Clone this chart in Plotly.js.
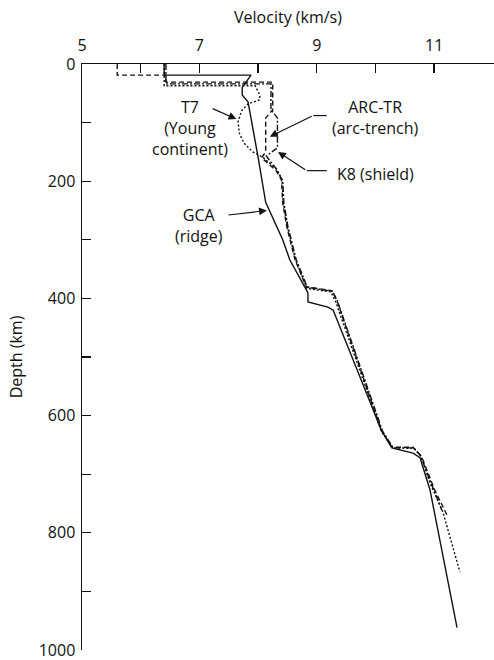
<!DOCTYPE html>
<html>
<head>
<meta charset="utf-8">
<script src="https://cdn.plot.ly/plotly-3.0.1.min.js"></script>
<style>html,body{margin:0;padding:0;background:#fff;}#chart{width:494px;height:660px;}</style>
</head>
<body>
<div id="chart"></div>
<script>
// Velocity (km/s) vs depth (km) for four upper-mantle models
const gcaV = [6.4, 6.4, 7.88, 7.73, 7.73, 7.83, 8.0, 8.13, 8.42, 8.54, 8.82, 8.85, 8.85, 9.19, 9.28, 10.1, 10.28, 10.64, 10.76, 10.93, 11.39];
const gcaD = [0, 19, 19, 40, 53, 65, 159, 236, 300, 334, 385, 391, 406, 415, 420, 625, 655, 664, 672, 727, 962];

const t7V = [6.4, 6.4, 7.95, 8.03, 8.03, 7.83, 7.72, 7.66, 7.68, 7.76, 7.91, 8.08, 8.32, 8.41, 8.43, 8.5, 8.64, 8.83, 9.24, 9.32, 10.1, 10.3, 10.66, 10.78, 10.93, 11.15, 11.44];
const t7D = [0, 37, 37, 53, 61, 68, 80, 98, 118, 135, 150, 159, 180, 198, 237, 278, 334, 383, 389, 405, 627, 655, 656, 670, 715, 765, 867];

const arcV = [5.6, 5.6, 6.43, 6.43, 8.25, 8.25, 8.13, 8.13, 8.06, 8.3, 8.4, 8.42, 8.49, 8.63, 8.82, 9.26, 9.34, 10.1, 10.28, 10.64, 10.76, 10.81, 11.01, 11.22];
const arcD = [0, 19, 19, 31, 31, 78, 92, 150, 160, 181, 198, 237, 278, 334, 380, 387, 403, 625, 654, 654, 667, 676, 727, 770];

const k8V = [6.43, 6.43, 8.22, 8.22, 8.33, 8.33, 8.14, 8.32, 8.42, 8.44, 8.51, 8.65, 8.84, 9.27, 9.35, 10.12, 10.3, 10.65, 10.77, 10.88, 11.13];
const k8D = [0, 34, 34, 78, 92, 143, 157, 180, 200, 237, 278, 334, 381, 388, 404, 626, 655, 655, 668, 698, 761];

const xTickVals = [5, 6, 7, 8, 9, 10, 11];
const xTickText = ['5', '', '7', '', '9', '', '11'];
const yTickVals = [0, 100, 200, 300, 400, 500, 600, 700, 800, 900, 1000];
const yTickText = ['0', '', '200', '', '400', '', '600', '', '800', '', '1000'];

const FONT = 'Open Sans, Noto Sans, sans-serif';
function tr(v, d, dash, name) {
  return {x: v, y: d, type: 'scatter', mode: 'lines', name: name,
    line: {color: '#111', width: 1.4, dash: dash}, hoverinfo: 'skip'};
}
const data = [
  tr(gcaV, gcaD, 'solid', 'GCA'),
  tr(t7V, t7D, '2px,2px', 'T7'),
  tr(arcV, arcD, '5px,3px', 'ARC-TR'),
  tr(k8V, k8D, '6px,2px,2px,2px', 'K8')
];

const txt = {family: FONT, size: 16, color: '#111'};
const arr = {showarrow: true, arrowhead: 2, arrowsize: 1.3, arrowwidth: 1.2, arrowcolor: '#111', text: '', xref: 'x', yref: 'y', axref: 'x', ayref: 'y'};
const annotations = [
  {x: 6.84, y: 110, xref: 'x', yref: 'y', text: 'T7<br>(Young<br>continent)', showarrow: false, font: txt, align: 'center'},
  Object.assign({x: 7.63, y: 94, ax: 7.2, ay: 75}, arr),
  {x: 9.99, y: 92, xref: 'x', yref: 'y', text: 'ARC-TR<br>(arc-trench)', showarrow: false, font: txt, align: 'center'},
  Object.assign({x: 8.2, y: 124, ax: 8.94, ay: 88}, arr),
  {x: 10.0, y: 187, xref: 'x', yref: 'y', text: 'K8 (shield)', showarrow: false, font: txt, align: 'center'},
  Object.assign({x: 8.34, y: 150, ax: 8.83, ay: 182}, arr),
  {x: 7.0, y: 276, xref: 'x', yref: 'y', text: 'GCA<br>(ridge)', showarrow: false, font: txt, align: 'center'},
  Object.assign({x: 8.15, y: 250, ax: 7.47, ay: 258}, arr)
];
const shapes = [
  {type: 'line', xref: 'x', yref: 'y', x0: 8.94, y0: 88, x1: 9.17, y1: 88, line: {color: '#111', width: 1.2}},
  {type: 'line', xref: 'x', yref: 'y', x0: 8.83, y0: 182, x1: 9.17, y1: 182, line: {color: '#111', width: 1.2}}
];

const layout = {
  width: 494, height: 660,
  margin: {l: 82, r: 0, t: 64, b: 10, pad: 0},
  paper_bgcolor: '#fff', plot_bgcolor: '#fff',
  showlegend: false,
  font: {family: FONT, size: 16, color: '#111'},
  xaxis: {
    side: 'top', range: [5, 12.02], showgrid: false, zeroline: false,
    showline: true, linecolor: '#111', linewidth: 1.5,
    ticks: 'inside', ticklen: 9, tickwidth: 1.3, tickcolor: '#111',
    tickvals: xTickVals, ticktext: xTickText, ticklabelstandoff: 5,
    tickfont: {family: FONT, size: 16, color: '#111'},
    title: {text: 'Velocity (km/s)', font: {family: FONT, size: 16, color: '#111'}, standoff: 6}
  },
  yaxis: {
    range: [1000, 0], showgrid: false, zeroline: false,
    showline: true, linecolor: '#111', linewidth: 1.5,
    ticks: 'inside', ticklen: 9, tickwidth: 1.3, tickcolor: '#111',
    tickvals: yTickVals, ticktext: yTickText, ticklabelstandoff: 2,
    ticklabeloverflow: 'allow',
    tickfont: {family: FONT, size: 16, color: '#111'},
    title: {text: 'Depth (km)', font: {family: FONT, size: 16, color: '#111'}, standoff: 12}
  },
  annotations: annotations,
  shapes: shapes
};

Plotly.newPlot('chart', data, layout, {displayModeBar: false, staticPlot: true});
</script>
</body>
</html>
